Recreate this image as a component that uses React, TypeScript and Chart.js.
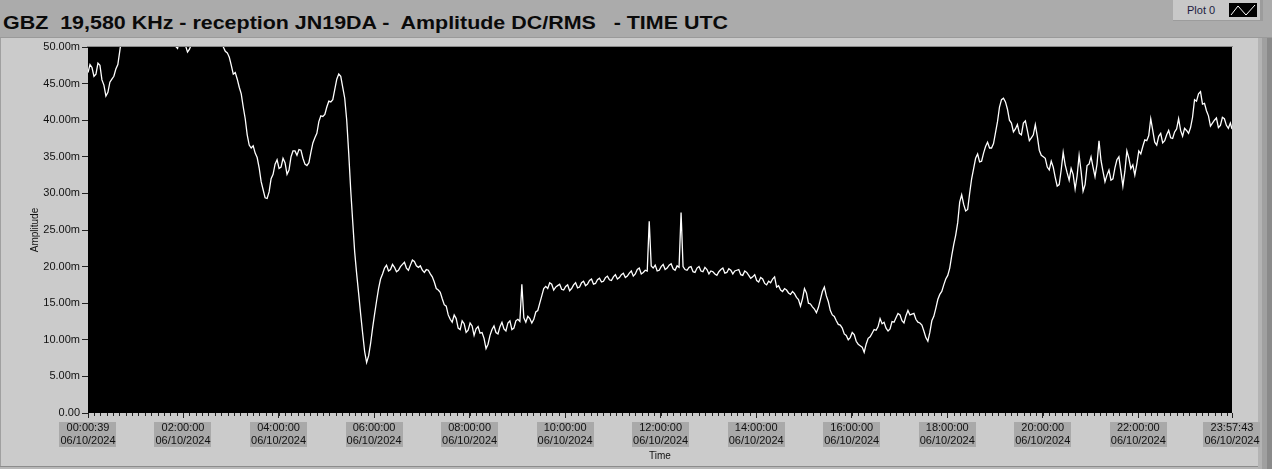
import React, { useEffect, useLayoutEffect, useRef } from 'react';
import { Chart, registerables } from 'chart.js';

Chart.register(...registerables);

// ---------- text ----------
const TITLE = 'GBZ  19,580 KHz - reception JN19DA -  Amplitude DC/RMS   - TIME UTC';
const LEGEND_LABEL = 'Plot 0';
const Y_TITLE = 'Amplitude';
const X_TITLE = 'Time';
const DATE_LABEL = '06/10/2024';

// ---------- time axis (seconds since 00:00:00 UTC) ----------
const T_START = 39;
const T_END = 86263;
const SAMPLE_STEP = 300;
const MINOR_TICK_SECONDS = 480;
const X_TICK_SECONDS = [39, 7200, 14400, 21600, 28800, 36000, 43200, 50400, 57600, 64800, 72000, 79200, 86263];
const X_TICK_TIMES = ['00:00:39', '02:00:00', '04:00:00', '06:00:00', '08:00:00', '10:00:00', '12:00:00', '14:00:00', '16:00:00', '18:00:00', '20:00:00', '22:00:00', '23:57:43'];

// ---------- amplitude axis (milli units) ----------
const Y_TICKS = [0, 5, 10, 15, 20, 25, 30, 35, 40, 45, 50];

// ---------- series: amplitude (m) every SAMPLE_STEP seconds from T_START ----------
const AMPLITUDE_M = [
  46.5, 47.2, 46.3, 47.5, 44.8, 43.8, 45.6, 47.0, 49.5, 53.0,
  54.0, 55.0, 54.0, 53.0, 52.0, 51.0, 50.8, 51.5, 52.0, 51.0,
  51.5, 50.6, 50.1, 51.0, 50.5, 49.3, 50.4, 52.0, 53.0, 53.5,
  52.5, 52.0, 51.5, 51.0, 50.0, 49.2, 47.5, 46.5, 44.5, 41.8,
  38.0, 36.2, 35.5, 33.5, 30.5, 29.3, 32.0, 34.0, 33.4, 34.8,
  32.6, 35.0, 35.8, 36.0, 34.8, 33.8, 35.6, 37.6, 39.8, 40.5,
  41.8, 42.5, 44.2, 46.3, 44.5, 40.0, 30.5, 22.0, 16.3, 10.9,
  6.9, 9.5, 13.5, 17.0, 19.0, 20.2, 19.6, 19.9, 19.5, 20.3,
  19.8, 20.2, 20.7, 19.9, 19.5, 19.6, 19.0, 17.9, 16.8, 15.6,
  14.6, 12.8, 13.4, 11.6, 12.6, 11.0, 12.3, 10.6, 11.8, 11.0,
  8.8, 10.6, 11.9, 10.8, 12.4, 11.2, 12.6, 11.6, 12.8, 17.6,
  12.4, 12.9, 12.8, 14.0, 16.0, 17.3, 17.8, 16.8, 17.4, 16.9,
  17.3, 16.7, 17.5, 17.1, 17.8, 17.4, 18.1, 17.6, 18.2, 17.9,
  18.5, 18.2, 18.6, 18.3, 18.9, 18.5, 19.1, 18.7, 19.6, 19.0,
  19.5, 26.2, 19.8, 19.4, 20.0, 19.6, 20.2, 19.7, 20.1, 27.4,
  19.6, 19.9, 19.3, 19.8, 19.4, 19.9, 19.0, 19.3, 18.8, 19.6,
  19.1, 19.7, 19.0, 19.5, 18.9, 19.4, 18.8, 18.6, 18.1, 18.5,
  17.7, 18.0, 18.3, 17.2, 16.8, 17.0, 16.4, 16.6, 15.8, 14.6,
  17.0, 15.0, 14.5, 13.7, 15.5, 17.2, 15.2, 13.4, 12.6, 12.0,
  10.8, 10.0, 11.0, 9.8, 9.2, 8.3, 10.2, 10.9, 11.3, 12.9,
  12.4, 11.2, 12.5, 13.0, 13.4, 12.3, 14.0, 13.5, 12.8, 12.3,
  11.2, 9.8, 12.6, 14.3, 16.2, 17.5, 18.8, 21.5, 24.3, 28.8,
  28.5, 27.8, 32.0, 34.8, 34.3, 35.5, 37.0, 36.2, 38.3, 41.8,
  43.0, 41.5, 39.6, 38.8, 38.2, 39.6, 38.6, 37.6, 39.4, 35.9,
  35.0, 33.6, 34.4, 32.2, 31.2, 35.6, 32.8, 33.4, 30.6, 35.2,
  30.3, 33.8, 35.0, 32.3, 37.2, 33.0, 32.5, 31.8, 33.5, 35.0,
  31.0, 35.8, 33.4, 32.5, 35.8, 36.4, 37.2, 40.2, 37.0, 37.8,
  36.9, 38.0, 37.6, 38.4, 40.2, 37.8, 38.6, 39.0, 42.8, 43.6,
  42.2, 41.3, 39.2, 40.0, 39.0, 40.4, 39.3, 39.6,
];
// readings half-way (SAMPLE_STEP / 2) after each sample above
const AMPLITUDE_MID_M = [
  47.6, 46.0, 47.8, 45.5, 43.3, 45.2, 46.0, 47.6, 51.5, 53.5,
  54.6, 54.8, 53.4, 52.6, 51.4, 51.4, 50.5, 52.4, 51.2, 50.4,
  51.2, 50.9, 49.8, 51.2, 50.2, 49.7, 51.0, 52.8, 52.9, 53.2,
  52.0, 52.2, 51.0, 50.8, 49.4, 48.6, 46.3, 45.6, 43.6, 40.2,
  36.6, 36.5, 34.9, 31.6, 29.4, 30.2, 32.6, 34.6, 33.6, 34.2,
  33.2, 35.8, 35.2, 35.9, 34.0, 34.2, 36.9, 38.2, 40.6, 40.8,
  42.6, 42.8, 45.6, 46.0, 43.0, 35.5, 26.2, 19.0, 13.5, 8.4,
  7.8, 11.6, 15.3, 18.3, 19.8, 19.4, 20.3, 19.3, 20.0, 20.6,
  19.5, 20.9, 20.1, 20.1, 19.2, 19.5, 18.6, 17.0, 16.5, 14.8,
  13.4, 12.4, 12.9, 11.4, 12.2, 11.3, 11.9, 11.5, 10.9, 10.2,
  9.4, 11.4, 11.0, 11.8, 11.5, 12.3, 11.4, 12.6, 12.5, 13.0,
  13.2, 12.3, 13.8, 15.0, 17.0, 17.0, 17.6, 17.2, 17.6, 16.8,
  17.5, 17.0, 17.8, 17.2, 18.0, 17.6, 18.3, 17.7, 18.4, 18.0,
  18.7, 18.1, 18.9, 18.5, 19.1, 18.7, 19.4, 19.0, 19.8, 19.2,
  19.4, 20.1, 20.2, 19.5, 20.3, 19.8, 20.4, 19.5, 19.9, 20.0,
  19.5, 20.0, 19.2, 20.0, 19.3, 19.6, 19.4, 19.0, 19.3, 19.8,
  19.2, 19.5, 19.4, 19.6, 18.8, 19.2, 18.4, 18.9, 17.9, 18.3,
  17.5, 17.8, 18.6, 17.4, 16.6, 16.8, 16.2, 16.3, 15.5, 15.6,
  16.4, 14.9, 14.2, 14.4, 16.6, 16.0, 14.0, 13.2, 12.1, 11.6,
  10.6, 10.3, 10.7, 9.4, 9.0, 9.4, 10.4, 11.4, 11.8, 12.2,
  11.6, 11.5, 12.4, 13.6, 12.6, 13.3, 13.4, 13.6, 12.4, 12.0,
  10.3, 11.0, 13.2, 15.5, 16.6, 18.3, 19.8, 23.0, 26.0, 29.8,
  27.6, 30.0, 33.4, 35.4, 34.4, 36.4, 36.2, 36.8, 39.8, 42.8,
  42.5, 40.0, 38.4, 39.4, 38.0, 39.9, 37.2, 38.0, 37.8, 35.2,
  34.8, 33.2, 33.6, 31.0, 33.2, 33.9, 31.8, 32.6, 32.4, 33.0,
  31.2, 34.0, 33.6, 34.0, 34.5, 31.6, 33.2, 32.0, 34.6, 33.0,
  33.0, 34.8, 33.9, 34.0, 35.4, 37.3, 37.9, 38.6, 36.6, 38.2,
  37.2, 38.6, 37.5, 38.8, 38.6, 38.9, 38.2, 40.4, 42.6, 43.9,
  42.3, 40.6, 39.6, 40.3, 39.3, 40.2, 38.9,
];
const AMPLITUDE_END_M = 38.8;

const FONT = 'Liberation Sans, Arial, sans-serif';

const blackArea = {
  id: 'blackArea',
  beforeDraw(chart: any) {
    const { ctx, chartArea: a } = chart;
    ctx.save();
    ctx.fillStyle = '#000';
    ctx.fillRect(a.left, a.top, a.right - a.left, a.bottom - a.top);
    ctx.restore();
  },
};

// grey boxes behind the two-line time labels (drawn before the scale text)
const labelBackdrops = {
  id: 'labelBackdrops',
  beforeDraw(chart: any) {
    const { ctx, chartArea: a } = chart;
    const xs = chart.scales.x;
    ctx.save();
    ctx.font = `11px ${FONT}`;
    ctx.fillStyle = '#a9a9a9';
    X_TICK_SECONDS.forEach((t, i) => {
      const w = Math.max(ctx.measureText(X_TICK_TIMES[i]).width, ctx.measureText(DATE_LABEL).width) + 2;
      const px = xs.getPixelForValue(t);
      ctx.fillRect(Math.round(px - w / 2), a.bottom + 9, Math.round(w), 25);
    });
    ctx.restore();
  },
};

const minorTicks = {
  id: 'minorTicks',
  afterDraw(chart: any) {
    const { ctx, chartArea: a } = chart;
    const xs = chart.scales.x;
    ctx.save();
    ctx.strokeStyle = '#222';
    ctx.lineWidth = 1;
    ctx.beginPath();
    for (let t = MINOR_TICK_SECONDS; t < T_END; t += MINOR_TICK_SECONDS) {
      const px = Math.round(xs.getPixelForValue(t)) + 0.5;
      ctx.moveTo(px, a.bottom);
      ctx.lineTo(px, a.bottom + 3);
    }
    ctx.stroke();
    ctx.restore();
  },
};

export default function App() {
  const canvasRef = useRef<HTMLCanvasElement | null>(null);
  const titleRef = useRef<HTMLDivElement | null>(null);

  useLayoutEffect(() => {
    const el = titleRef.current;
    if (el) {
      el.style.transform = 'none';
      const w = el.getBoundingClientRect().width;
      if (w > 0) el.style.transform = `scaleX(${725 / w})`;
    }
  }, []);

  useEffect(() => {
    const canvas = canvasRef.current;
    if (!canvas) return;
    const points: { x: number; y: number }[] = [];
    AMPLITUDE_M.forEach((v, i) => {
      const t = T_START + i * SAMPLE_STEP;
      points.push({ x: t, y: v });
      if (i < AMPLITUDE_MID_M.length) points.push({ x: t + SAMPLE_STEP / 2, y: AMPLITUDE_MID_M[i] });
    });
    points.push({ x: T_END, y: AMPLITUDE_END_M });

    const chart = new Chart(canvas, {
      type: 'line',
      data: {
        datasets: [
          {
            label: LEGEND_LABEL,
            data: points,
            borderColor: '#ffffff',
            borderWidth: 1.3,
            pointRadius: 0,
            tension: 0,
            clip: 0,
          } as any,
        ],
      },
      options: {
        animation: false,
        responsive: false,
        events: [],
        layout: { padding: { left: 0, top: 47, right: 40, bottom: 0 } },
        plugins: { legend: { display: false }, tooltip: { enabled: false } },
        scales: {
          x: {
            type: 'linear',
            min: T_START,
            max: T_END,
            afterBuildTicks: (s: any) => {
              s.ticks = X_TICK_SECONDS.map((v) => ({ value: v }));
            },
            afterFit: (s: any) => {
              s.height = 56;
            },
            ticks: {
              autoSkip: false,
              maxRotation: 0,
              minRotation: 0,
              padding: 4,
              color: '#111',
              font: { family: FONT, size: 11, lineHeight: 1.15 },
              callback: (_v: any, i: number) => [X_TICK_TIMES[i], DATE_LABEL],
            } as any,
            grid: { drawOnChartArea: false, drawTicks: true, tickLength: 5, tickColor: '#222', color: '#222' },
            border: { display: false },
            title: {
              display: true,
              text: X_TITLE,
              color: '#111',
              font: { family: FONT, size: 10 },
              padding: { top: 0, bottom: 7 },
            },
          },
          y: {
            type: 'linear',
            min: 0,
            max: 50,
            afterBuildTicks: (s: any) => {
              s.ticks = Y_TICKS.map((v) => ({ value: v }));
            },
            afterFit: (s: any) => {
              s.width = 88;
            },
            ticks: {
              padding: 2,
              color: '#111',
              font: { family: FONT, size: 11 },
              callback: (v: any) => (Number(v) === 0 ? '0.00' : Number(v).toFixed(2) + 'm'),
            },
            grid: { drawOnChartArea: false, drawTicks: true, tickLength: 6, tickColor: '#222', color: '#222' },
            border: { display: false },
            title: {
              display: true,
              text: Y_TITLE,
              color: '#111',
              font: { family: FONT, size: 10 },
              padding: { top: 29, bottom: 0 },
            },
          },
        },
      },
      plugins: [blackArea, labelBackdrops, minorTicks],
    });
    return () => chart.destroy();
  }, []);

  return (
    <div style={{ position: 'absolute', left: 0, top: 0, width: 1272, height: 469, background: '#cbcbcb', overflow: 'hidden' }}>
      {/* top bar */}
      <div style={{ position: 'absolute', left: 0, top: 0, width: 1272, height: 37, background: '#ababab' }} />
      <div style={{ position: 'absolute', left: 0, top: 37, width: 1272, height: 1, background: '#9a9a9a' }} />
      {/* title */}
      <div
        ref={titleRef}
        style={{
          position: 'absolute', left: 3, top: 13, whiteSpace: 'pre', transformOrigin: '0 0',
          font: `bold 19px ${FONT}`, lineHeight: '19px', color: '#0a0a0a',
        }}
      >
        {TITLE}
      </div>
      {/* legend */}
      <div style={{ position: 'absolute', left: 1173, top: 0, width: 87, height: 20, background: '#c8c8c8' }} />
      <div style={{ position: 'absolute', left: 1260, top: 0, width: 3, height: 20, background: '#9c9c9c' }} />
      <div style={{ position: 'absolute', left: 1173, top: 20, width: 90, height: 1, background: '#9c9c9c' }} />
      <div style={{ position: 'absolute', left: 1187, top: 4, font: `11px ${FONT}`, lineHeight: '12px', color: '#1c1c40' }}>
        {LEGEND_LABEL}
      </div>
      <svg style={{ position: 'absolute', left: 1229, top: 3 }} width={28} height={14}>
        <rect x={0} y={0} width={28} height={14} fill="#000" />
        <polyline points="2,12 9,3 17,12 26,2" fill="none" stroke="#fff" strokeWidth={1} />
      </svg>
      {/* right frame */}
      <div style={{ position: 'absolute', left: 1258, top: 38, width: 4, height: 431, background: '#b3b3b3' }} />
      <div style={{ position: 'absolute', left: 1262, top: 38, width: 5, height: 431, background: '#a0a0a0' }} />
      <div style={{ position: 'absolute', left: 1267, top: 38, width: 5, height: 431, background: '#8a8a8a' }} />
      {/* bottom frame */}
      <div style={{ position: 'absolute', left: 0, top: 466, width: 1258, height: 1, background: '#8c8c8c' }} />
      <div style={{ position: 'absolute', left: 0, top: 467, width: 1258, height: 2, background: '#b8b8b8' }} />
      {/* left frame */}
      <div style={{ position: 'absolute', left: 0, top: 38, width: 1, height: 428, background: '#a0a0a0' }} />
      {/* plot frame */}
      <div style={{ position: 'absolute', left: 87, top: 46, width: 1146, height: 1, background: '#8a8a8a' }} />
      <canvas ref={canvasRef} width={1272} height={469} style={{ position: 'absolute', left: 0, top: 0 }} />
    </div>
  );
}
